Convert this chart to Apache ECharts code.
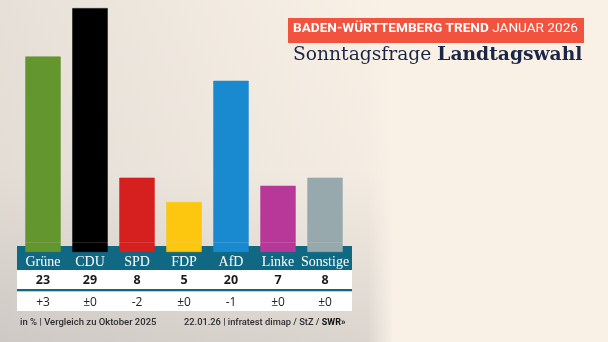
<!DOCTYPE html>
<html>
<head>
<meta charset="utf-8">
<script src="https://cdn.jsdelivr.net/npm/echarts@6/dist/echarts.min.js"></script>
<style>
  html, body { margin: 0; padding: 0; background: #f9f1e6; }
  #chart { width: 608px; height: 342px; }
</style>
</head>
<body>
<div id="chart"></div>
<script>
// Parties, poll shares (in %) and change since October 2025
const categories = ['Grüne', 'CDU', 'SPD', 'FDP', 'AfD', 'Linke', 'Sonstige'];
const values = [23, 29, 8, 5, 20, 7, 8];
const changes = ['+3', '±0', '-2', '±0', '-1', '±0', '±0'];
const partyColors = ['#64962f', '#000000', '#d61f1f', '#fdc60f', '#1a8ad0', '#b8389a', '#97a9ad'];

const headline = 'BADEN-WÜRTTEMBERG TREND';
const headlineDate = 'JANUAR 2026';
const subtitleLight = 'Sonntagsfrage ';
const subtitleBold = 'Landtagswahl';
const noteLeft = 'in % | Vergleich zu Oktober 2025';
const noteRight = '22.01.26 | infratest dimap / StZ / ';
const brand = 'SWR»';

// Coloured strip of each bar that reaches into the table header
const FOOT = -1.2;

const TEAL = '#116882';
const BEIGE = '#f9f1e6';
const tableX = 17, tableW = 335;

const chart = echarts.init(document.getElementById('chart'), null, { renderer: 'canvas' });

const labelAxis = (margin, formatter, style) => ({
  type: 'category',
  data: categories,
  gridIndex: 0,
  position: 'bottom',
  z: 10,
  axisLine: { show: false },
  axisTick: { show: false },
  axisLabel: Object.assign({
    interval: 0,
    margin: margin,
    verticalAlign: 'middle',
    formatter: formatter
  }, style)
});

const barStyle = (i) => ({ color: partyColors[i], borderColor: partyColors[i], borderWidth: 0.6 });

chart.setOption({
  backgroundColor: BEIGE,
  animation: false,
  grid: { left: 19.5, width: 329, top: 0, height: 252, containLabel: false },
  xAxis: [
    labelAxis(10, (v) => v, { color: '#ffffff', fontFamily: 'Liberation Serif', fontSize: 14 }),
    labelAxis(28, (v, i) => String(values[i]), { color: '#1a1a1a', fontFamily: 'Open Sans', fontWeight: 'bold', fontSize: 12.5 }),
    labelAxis(51, (v, i) => changes[i], { color: '#222222', fontFamily: 'Open Sans', fontSize: 12 })
  ],
  yAxis: {
    type: 'value',
    min: FOOT,
    max: 30,
    show: false,
    splitLine: { show: false }
  },
  series: [
    {
      type: 'bar',
      name: 'Anteil',
      stack: 'party',
      barWidth: 35.4,
      z: 3,
      data: values.map((v, i) => ({ value: v, itemStyle: barStyle(i) }))
    },
    {
      type: 'bar',
      name: 'Fuß',
      stack: 'party',
      barWidth: 35.4,
      z: 3,
      silent: true,
      data: categories.map((c, i) => ({ value: FOOT, itemStyle: barStyle(i) }))
    }
  ],
  graphic: [
    // soft grey shading behind the chart area
    {
      type: 'rect', z: -20, silent: true,
      shape: { x: 0, y: 0, width: 390, height: 342 },
      style: {
        fill: new echarts.graphic.LinearGradient(0, 0, 1, 0, [
          { offset: 0, color: 'rgba(140,140,145,0.17)' },
          { offset: 0.6, color: 'rgba(140,140,145,0.06)' },
          { offset: 1, color: 'rgba(140,140,145,0)' }
        ])
      }
    },
    {
      type: 'rect', z: -20, silent: true,
      shape: { x: 0, y: 0, width: 392, height: 342 },
      style: {
        fill: new echarts.graphic.LinearGradient(0, 0, 0, 1, [
          { offset: 0, color: 'rgba(140,140,145,0)' },
          { offset: 0.5, color: 'rgba(140,140,145,0.04)' },
          { offset: 1, color: 'rgba(140,140,145,0.27)' }
        ])
      }
    },
    // feathered right edge of the shading
    {
      type: 'rect', z: -19, silent: true,
      shape: { x: 368, y: 0, width: 26, height: 342 },
      style: {
        fill: new echarts.graphic.LinearGradient(0, 0, 1, 0, [
          { offset: 0, color: 'rgba(249,241,230,0)' },
          { offset: 1, color: 'rgba(249,241,230,1)' }
        ])
      }
    },
    // table: header band, value rows and divider
    { type: 'rect', z: -5, silent: true, shape: { x: tableX, y: 246, width: tableW, height: 24 }, style: { fill: TEAL } },
    { type: 'rect', z: -5, silent: true, shape: { x: tableX, y: 270, width: tableW, height: 19 }, style: { fill: '#ffffff' } },
    { type: 'rect', z: -5, silent: true, shape: { x: tableX, y: 289, width: tableW, height: 2.5 }, style: { fill: TEAL } },
    { type: 'rect', z: -5, silent: true, shape: { x: tableX, y: 291.5, width: tableW, height: 19.5 }, style: { fill: '#ffffff' } },
    // headline box
    { type: 'rect', z: 1, silent: true, shape: { x: 288, y: 18, width: 296, height: 25 }, style: { fill: '#f2533e' } },
    {
      type: 'text', z: 2, silent: true, left: 293, top: 22,
      style: {
        text: '{b|' + headline + ' }{r|' + headlineDate + '}',
        rich: {
          b: { fontFamily: 'Roboto', fontWeight: 'bold', fontSize: 13.6, fill: '#ffffff' },
          r: { fontFamily: 'Roboto', fontSize: 13.6, fill: '#ffffff' }
        }
      }
    },
    {
      type: 'text', z: 2, silent: true, left: 293, top: 46,
      style: {
        text: '{l|' + subtitleLight + '}{b|' + subtitleBold + '}',
        rich: {
          l: { fontFamily: 'DejaVu Serif', fontSize: 18.7, fill: '#1b2646' },
          b: { fontFamily: 'DejaVu Serif', fontWeight: 'bold', fontSize: 18.7, fill: '#1b2646' }
        }
      }
    },
    // source notes
    {
      type: 'text', z: 2, silent: true, left: 20, top: 318,
      style: { text: noteLeft, fontFamily: 'Roboto', fontWeight: 500, fontSize: 9.5, fill: '#2e2e33' }
    },
    {
      type: 'text', z: 2, silent: true, left: 184, top: 318,
      style: {
        text: '{n|' + noteRight + '}{s|' + brand + '}',
        rich: {
          n: { fontFamily: 'Roboto', fontWeight: 500, fontSize: 9.3, fill: '#2e2e33' },
          s: { fontFamily: 'Roboto', fontWeight: 'bold', fontSize: 9, fill: '#111111' }
        }
      }
    }
  ]
});
</script>
</body>
</html>
